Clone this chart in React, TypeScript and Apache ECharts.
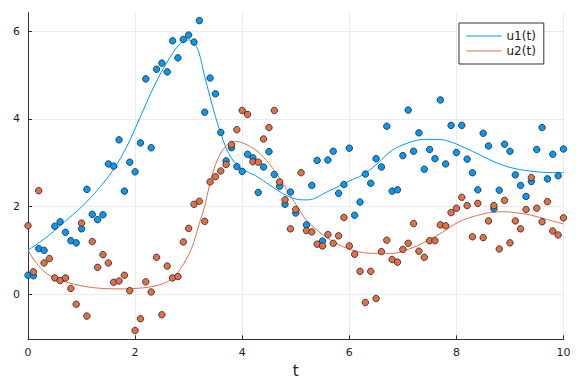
import React, { useEffect, useRef } from "react";
import * as echarts from "echarts";

const xTicks = [0, 2, 4, 6, 8, 10];
const yTicks = [0, 2, 4, 6];

const u1Curve: number[][] = [
  [0, 1.0], [0.4, 1.35], [0.7, 1.67], [1.0, 1.99], [1.3, 2.38], [1.6, 2.85], [1.85, 3.38],
  [2.1, 4.05], [2.35, 4.73], [2.6, 5.3], [2.8, 5.66], [2.9, 5.76], [3.0, 5.8], [3.1, 5.74],
  [3.2, 5.48], [3.3, 4.96], [3.4, 4.5], [3.5, 4.05], [3.6, 3.67], [3.7, 3.33], [3.8, 3.1],
  [3.9, 2.95], [4.0, 2.85], [4.25, 2.7], [4.5, 2.5], [4.75, 2.3], [5.0, 2.17], [5.2, 2.15],
  [5.35, 2.18], [5.5, 2.28], [5.75, 2.43], [6.0, 2.58], [6.25, 2.72], [6.5, 2.95], [6.8, 3.28],
  [7.1, 3.45], [7.4, 3.53], [7.65, 3.53], [7.9, 3.47], [8.1, 3.37], [8.4, 3.2], [8.7, 3.02],
  [9.0, 2.89], [9.3, 2.82], [9.6, 2.78], [10, 2.77],
];

const u2Curve: number[][] = [
  [0, 1.0], [0.15, 0.72], [0.35, 0.47], [0.6, 0.32], [0.85, 0.23], [1.2, 0.15], [1.6, 0.12],
  [2.0, 0.13], [2.3, 0.17], [2.6, 0.28], [2.8, 0.5], [3.0, 0.9], [3.1, 1.2], [3.2, 1.62],
  [3.3, 2.0], [3.4, 2.55], [3.5, 2.95], [3.6, 3.22], [3.7, 3.38], [3.8, 3.46], [3.9, 3.48],
  [4.1, 3.4], [4.3, 3.24], [4.5, 2.98], [4.75, 2.55], [5.0, 2.05], [5.2, 1.69], [5.5, 1.36],
  [5.8, 1.13], [6.1, 0.99], [6.45, 0.93], [6.8, 0.93], [7.1, 1.02], [7.4, 1.18], [7.75, 1.42],
  [8.05, 1.65], [8.4, 1.8], [8.7, 1.87], [8.9, 1.88], [9.1, 1.86], [9.4, 1.8], [9.7, 1.7], [10, 1.6],
];

const u1Points: number[][] = [
  [0, 0.43], [0.1, 0.42], [0.2, 1.04], [0.3, 1.0], [0.5, 1.55], [0.6, 1.65], [0.7, 1.41],
  [0.8, 1.22], [0.9, 1.17], [1.0, 1.49], [1.1, 2.39], [1.2, 1.82], [1.3, 1.7], [1.4, 1.81],
  [1.5, 2.97], [1.6, 2.92], [1.7, 3.52], [1.8, 2.35], [1.9, 3.01], [2.0, 2.79], [2.1, 3.45],
  [2.2, 4.91], [2.3, 3.34], [2.4, 5.13], [2.5, 5.27], [2.6, 5.07], [2.7, 5.78], [2.8, 5.39],
  [2.9, 5.81], [3.0, 5.91], [3.1, 5.75], [3.2, 6.24], [3.3, 4.15], [3.4, 4.93], [3.5, 4.57],
  [3.6, 3.69], [3.7, 3.04], [3.8, 3.34], [3.9, 2.91], [4.0, 2.8], [4.1, 3.19], [4.2, 3.11],
  [4.3, 2.32], [4.4, 2.9], [4.5, 3.25], [4.6, 2.73], [4.7, 2.46], [4.8, 2.05], [4.9, 2.33],
  [5.0, 1.85], [5.2, 1.58], [5.3, 2.48], [5.4, 3.05], [5.5, 1.21], [5.6, 3.06], [5.7, 3.26],
  [5.8, 2.3], [5.9, 2.5], [6.0, 3.33], [6.1, 1.8], [6.2, 2.1], [6.3, 2.74], [6.4, 2.53],
  [6.5, 3.09], [6.6, 2.9], [6.7, 3.83], [6.8, 2.35], [6.9, 2.38], [7.0, 3.16], [7.1, 4.2],
  [7.2, 3.26], [7.3, 3.68], [7.4, 2.85], [7.5, 3.3], [7.6, 3.09], [7.7, 4.43], [7.8, 2.97],
  [7.9, 3.85], [8.0, 3.23], [8.1, 3.85], [8.2, 3.08], [8.3, 2.77], [8.4, 2.38], [8.5, 3.67],
  [8.6, 3.38], [8.7, 1.95], [8.8, 2.37], [8.9, 3.42], [9.0, 3.26], [9.1, 2.72], [9.2, 2.48],
  [9.3, 2.23], [9.4, 2.57], [9.5, 3.3], [9.6, 3.8], [9.7, 2.63], [9.8, 3.19], [9.9, 2.7], [10, 3.31],
];

const u2Points: number[][] = [
  [0, 1.56], [0.1, 0.51], [0.2, 2.36], [0.3, 0.71], [0.4, 0.81], [0.5, 0.37], [0.6, 0.31],
  [0.7, 0.37], [0.8, 0.13], [0.9, -0.23], [1.0, 1.62], [1.1, -0.5], [1.2, 1.2], [1.3, 0.61],
  [1.4, 0.9], [1.5, 0.71], [1.6, 0.27], [1.7, 0.3], [1.8, 0.43], [1.9, 0.08], [2.0, -0.83],
  [2.1, -0.56], [2.2, 0.28], [2.3, 0.05], [2.4, 0.84], [2.5, -0.47], [2.6, 0.64], [2.7, 0.37],
  [2.8, 0.4], [2.9, 1.19], [3.0, 1.5], [3.1, 2.05], [3.2, 2.12], [3.3, 1.66], [3.4, 2.56],
  [3.5, 2.68], [3.6, 2.81], [3.7, 2.96], [3.8, 3.41], [3.9, 3.75], [4.0, 4.19], [4.1, 4.1],
  [4.2, 3.02], [4.3, 3.01], [4.4, 3.54], [4.5, 3.8], [4.6, 4.19], [4.7, 2.56], [4.8, 2.15],
  [4.9, 1.49], [5.0, 1.93], [5.1, 2.77], [5.2, 1.45], [5.3, 1.42], [5.4, 1.14], [5.5, 1.1],
  [5.6, 1.36], [5.7, 1.16], [5.8, 1.33], [5.9, 1.75], [6.0, 1.1], [6.1, 0.91], [6.2, 0.52],
  [6.3, -0.19], [6.4, 0.52], [6.5, -0.1], [6.6, 0.97], [6.7, 1.23], [6.8, 0.79], [6.9, 0.73],
  [7.0, 1.02], [7.1, 1.16], [7.2, 1.61], [7.3, 0.98], [7.4, 0.84], [7.5, 1.22], [7.6, 1.22],
  [7.7, 1.58], [7.8, 1.56], [7.9, 1.86], [8.0, 1.96], [8.1, 2.21], [8.2, 2.02], [8.3, 1.31],
  [8.4, 2.07], [8.5, 1.29], [8.6, 1.67], [8.7, 2.02], [8.8, 1.03], [8.9, 2.14], [9.0, 1.17],
  [9.1, 1.67], [9.2, 1.49], [9.3, 1.93], [9.4, 2.66], [9.5, 1.96], [9.6, 1.65], [9.7, 2.11],
  [9.8, 1.44], [9.9, 1.35], [10, 1.74],
];

const BLUE = "#009AFA";
const ORANGE = "#E36F47";
const FONT = "DejaVu Sans";

export default function App() {
  const ref = useRef<HTMLDivElement>(null);
  useEffect(() => {
    const chart = echarts.init(ref.current!, null, { renderer: "svg" });
    const axisCommon = {
      axisLine: { show: true, onZero: false, lineStyle: { color: "#333", width: 1 } },
      splitLine: { show: true, lineStyle: { color: "#ebebeb", width: 1 } },
    };
    chart.setOption({
      animation: false,
      backgroundColor: "#fff",
      grid: { left: 28, right: 12.5, top: 12.7, bottom: 44.7, containLabel: false },
      legend: {
        data: ["u1(t)", "u2(t)"],
        orient: "vertical",
        left: 459,
        top: 23,
        itemWidth: 35,
        itemHeight: 11,
        itemGap: 3,
        padding: [7, 8, 7, 7],
        borderColor: "#333",
        borderWidth: 1,
        backgroundColor: "#fff",
        itemStyle: { opacity: 0, borderWidth: 0 },
        lineStyle: { width: 1 },
        textStyle: { fontFamily: FONT, fontSize: 12, color: "#222", padding: [0, 0, 0, 0] },
      },
      xAxis: {
        type: "value",
        min: 0,
        max: 10,
        interval: 2,
        ...axisCommon,
        axisTick: { show: true, inside: true, length: 4, lineStyle: { color: "#333" } },
        axisLabel: {
          fontFamily: FONT, fontSize: 11, color: "#222", margin: 8,
          customValues: xTicks,
        },
        name: "t",
        nameLocation: "middle",
        nameGap: 22,
        nameTextStyle: { fontFamily: FONT, fontSize: 15, color: "#222" },
      },
      yAxis: {
        type: "value",
        min: -1.03,
        max: 6.42,
        ...axisCommon,
        axisTick: {
          show: true, inside: true, length: 4, lineStyle: { color: "#333" },
          customValues: yTicks,
        },
        axisLabel: {
          fontFamily: FONT, fontSize: 11, color: "#222", margin: 8,
          customValues: yTicks,
        },
      },
      series: [
        {
          name: "u1(t)", type: "line", data: u1Curve, smooth: 0.35, symbol: "none",
          lineStyle: { color: BLUE, width: 1 }, itemStyle: { color: BLUE }, z: 2,
        },
        {
          name: "u2(t)", type: "line", data: u2Curve, smooth: 0.35, symbol: "none",
          lineStyle: { color: ORANGE, width: 1 }, itemStyle: { color: ORANGE }, z: 2,
        },
        {
          name: "u1 data", type: "scatter", data: u1Points, symbolSize: 6.5,
          itemStyle: { color: BLUE, borderColor: "#222", borderWidth: 0.8, opacity: 1 }, z: 3,
        },
        {
          name: "u2 data", type: "scatter", data: u2Points, symbolSize: 6.5,
          itemStyle: { color: ORANGE, borderColor: "#222", borderWidth: 0.8, opacity: 1 }, z: 4,
        },
      ],
    });
    return () => chart.dispose();
  }, []);
  return (
    <div
      ref={ref}
      style={{ position: "fixed", left: 0, top: 0, width: 576, height: 384, background: "#fff" }}
    />
  );
}
